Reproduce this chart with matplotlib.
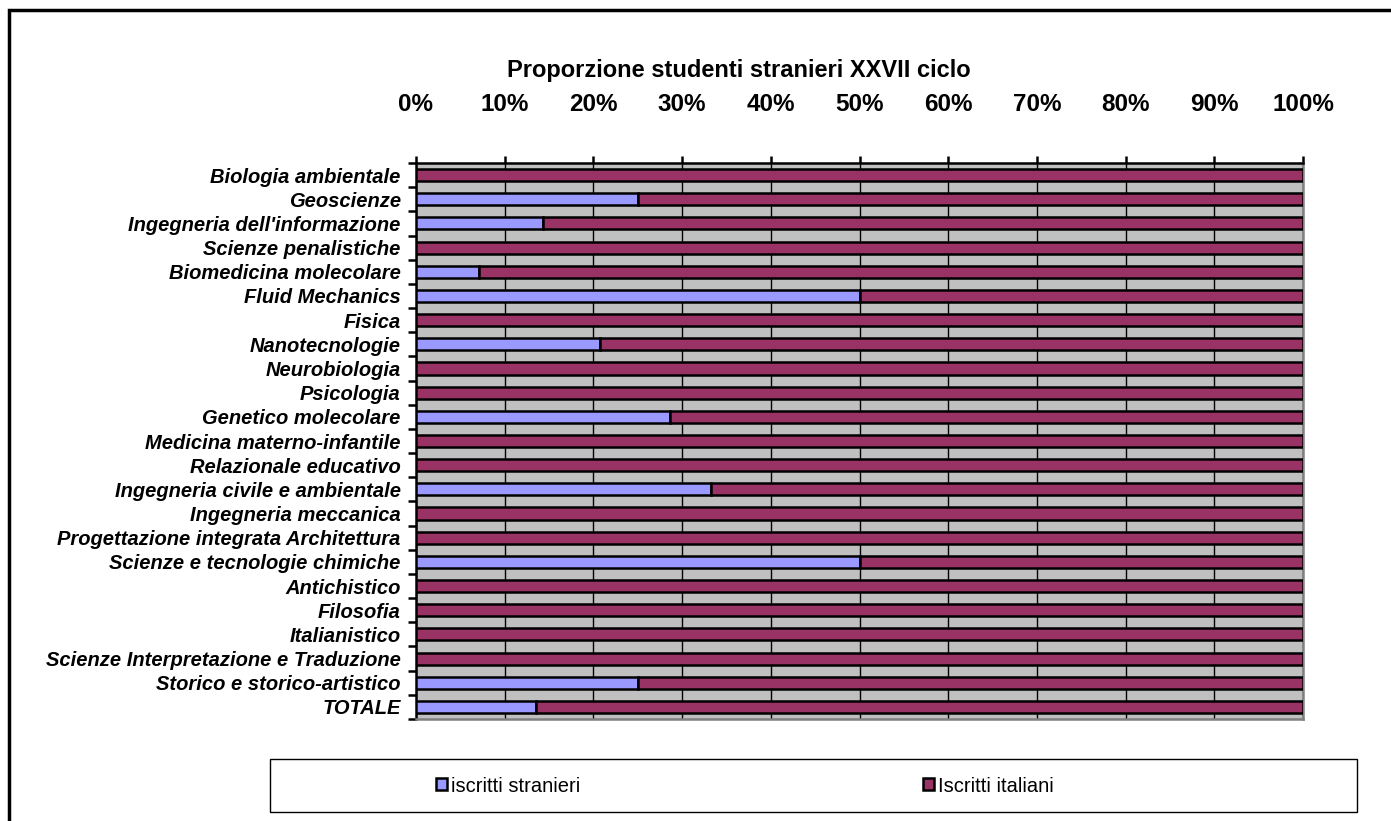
import numpy as np
import matplotlib
matplotlib.use("Agg")
import matplotlib.pyplot as plt
from matplotlib.patches import Rectangle
from matplotlib.ticker import MultipleLocator, PercentFormatter

# Dati: quota di iscritti stranieri per corso (il resto sono italiani)
corsi = [
    "Biologia ambientale",
    "Geoscienze",
    "Ingegneria dell'informazione",
    "Scienze penalistiche",
    "Biomedicina molecolare",
    "Fluid Mechanics",
    "Fisica",
    "Nanotecnologie",
    "Neurobiologia",
    "Psicologia",
    "Genetico molecolare",
    "Medicina materno-infantile",
    "Relazionale educativo",
    "Ingegneria civile e ambientale",
    "Ingegneria meccanica",
    "Progettazione integrata Architettura",
    "Scienze e tecnologie chimiche",
    "Antichistico",
    "Filosofia",
    "Italianistico",
    "Scienze Interpretazione e Traduzione",
    "Storico e storico-artistico",
    "TOTALE",
]
stranieri = [0.0, 0.25, 0.143, 0.0, 0.071, 0.5, 0.0, 0.208, 0.0, 0.0, 0.286,
             0.0, 0.0, 0.333, 0.0, 0.0, 0.5, 0.0, 0.0, 0.0, 0.0, 0.25, 0.135]
italiani = [1 - s for s in stranieri]

col_str = "#9999FF"
col_ita = "#993366"
plt.rcParams["font.family"] = ["Liberation Sans", "DejaVu Sans"]

fig = plt.figure(figsize=(13.91, 8.21), dpi=100)
ax = fig.add_axes([416 / 1391, 1 - 719 / 821, 887 / 1391, 556 / 821])

pos = np.arange(len(corsi))
ax.set_facecolor("#C0C0C0")
ax.barh(pos, stranieri, height=0.5, color=col_str, edgecolor="black",
        linewidth=1.8, label="iscritti stranieri", zorder=3)
ax.barh(pos, italiani, left=stranieri, height=0.5, color=col_ita,
        edgecolor="black", linewidth=1.8, label="Iscritti italiani", zorder=3)

ax.set_xlim(0, 1)
ax.set_ylim(len(corsi) - 0.5, -0.5)
ax.xaxis.set_major_locator(MultipleLocator(0.1))
ax.xaxis.set_major_formatter(PercentFormatter(1.0, decimals=0))
ax.xaxis.tick_top()
ax.tick_params(axis="x", direction="out", length=5, width=1.8, pad=29,
               labelsize=17.5)
for t in ax.get_xticklabels():
    t.set_fontweight("bold")
ax.grid(axis="x", color="black", linewidth=1, zorder=1)

ax.set_yticks(pos)
ax.set_yticklabels(corsi, fontsize=14.5, fontweight="bold", fontstyle="italic")
ax.set_yticks(np.arange(len(corsi) + 1) - 0.5, minor=True)
ax.tick_params(axis="y", which="major", length=0, pad=11)
ax.tick_params(axis="y", which="minor", direction="out", length=6, width=1.8)

for side in ["left", "top"]:
    ax.spines[side].set_linewidth(1.8)
    ax.spines[side].set_color("black")
for side in ["right", "bottom"]:
    ax.spines[side].set_linewidth(1.8)
    ax.spines[side].set_color("#808080")

fig.text(739 / 1391, 1 - 71 / 821, "Proporzione studenti stranieri XXVII ciclo",
         ha="center", va="center", fontsize=17, fontweight="bold")

# cornice della legenda
fig.patches.append(Rectangle((270 / 1391, 1 - 812 / 821), 1087 / 1391, 53 / 821,
                             transform=fig.transFigure, facecolor="none",
                             edgecolor="black", linewidth=1))
handles, labels = ax.get_legend_handles_labels()
fig.legend(handles, labels, ncol=2, loc="center left",
           bbox_to_anchor=(418 / 1391, 1 - 786 / 821), frameon=False,
           fontsize=14.5, handlelength=0.55, handleheight=0.55, handletextpad=0.2,
           columnspacing=17)

# cornice esterna del grafico
fig.patches.append(Rectangle((9 / 1391, -0.05), 1.2, 1.05 - 10 / 821,
                             transform=fig.transFigure, facecolor="none",
                             edgecolor="black", linewidth=2.5, clip_on=False))

fig.savefig("out.png", dpi=100)
